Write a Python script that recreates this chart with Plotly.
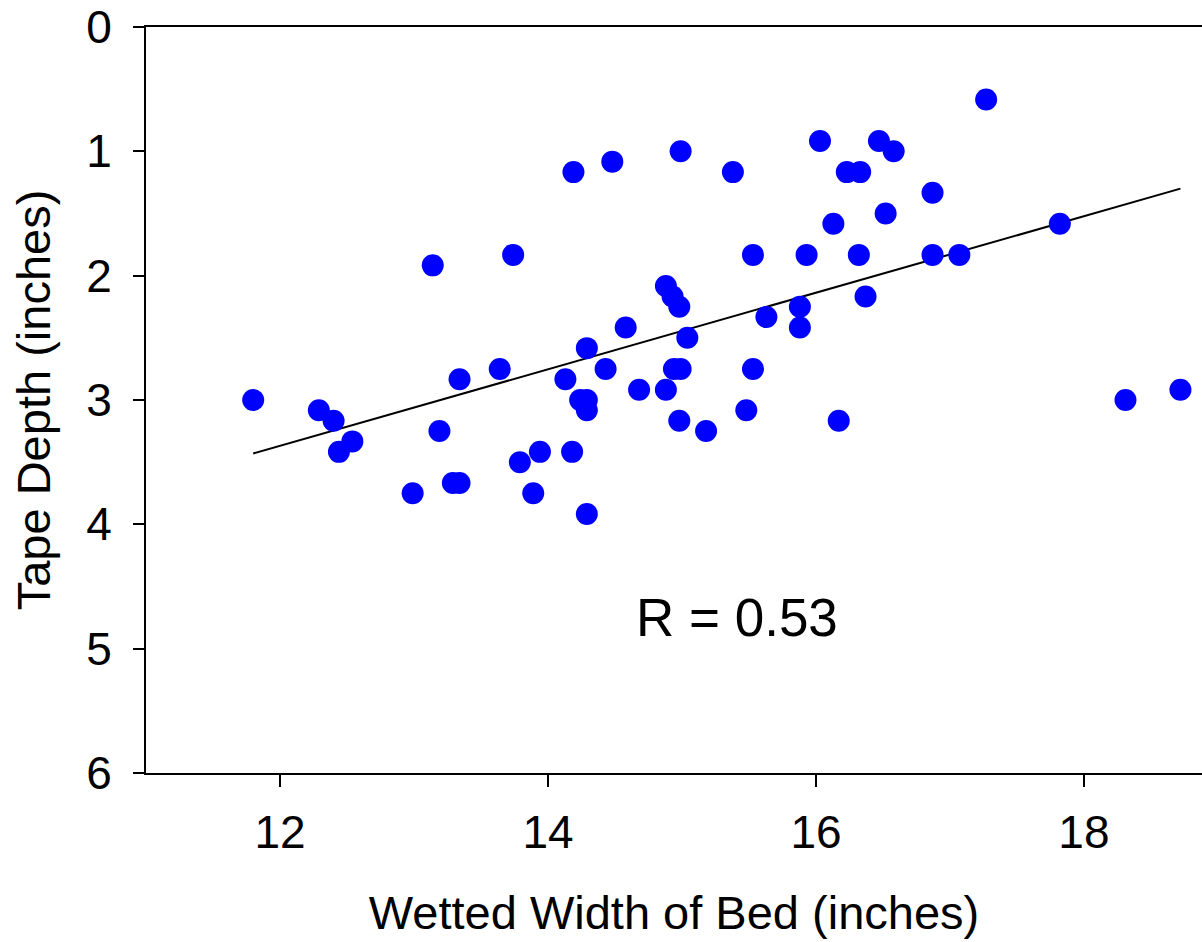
import plotly.graph_objects as go

# Wetted width of bed (inches)
width_in = [11.80, 12.29, 12.40, 12.54, 12.44, 12.99, 13.14, 13.19, 13.29, 13.34,
            13.34, 13.64, 14.19, 14.48, 14.99, 13.74, 14.88, 14.93, 14.98, 14.58,
            15.04, 14.29, 14.43, 14.94, 14.99, 14.13, 14.68, 14.88, 14.24, 14.29,
            14.29, 14.98, 15.18, 13.94, 13.79, 14.18, 13.89, 14.29, 16.03, 16.47,
            16.58, 15.38, 16.23, 16.33, 16.87, 16.52, 16.13, 15.53, 15.93, 16.32,
            16.87, 17.07, 16.37, 15.88, 15.63, 15.88, 15.53, 15.48, 16.17, 17.27,
            17.82, 18.31, 18.72]
# Tape depth (inches)
depth_in = [3.000, 3.083, 3.167, 3.333, 3.417, 3.750, 1.917, 3.250, 3.667, 3.667,
            2.833, 2.750, 1.167, 1.083, 1.000, 1.833, 2.083, 2.167, 2.250, 2.417,
            2.500, 2.583, 2.750, 2.750, 2.750, 2.833, 2.917, 2.917, 3.000, 3.000,
            3.083, 3.167, 3.250, 3.417, 3.500, 3.417, 3.750, 3.917, 0.917, 0.917,
            1.000, 1.167, 1.167, 1.167, 1.333, 1.500, 1.583, 1.833, 1.833, 1.833,
            1.833, 1.833, 2.167, 2.250, 2.333, 2.417, 2.750, 3.083, 3.167, 0.583,
            1.583, 3.000, 2.917]

# Regression line end points
fit_x = [11.80, 18.72]
fit_y = [3.43, 1.30]

x_ticks = [12, 14, 16, 18]
y_ticks = [0, 1, 2, 3, 4, 5, 6]

FONT = "Liberation Sans, Arial, sans-serif"

fig = go.Figure()
fig.add_trace(go.Scatter(x=fit_x, y=fit_y, mode="lines",
                         line=dict(color="black", width=2), showlegend=False,
                         hoverinfo="skip"))
fig.add_trace(go.Scatter(x=width_in, y=depth_in, mode="markers",
                         marker=dict(color="#0000FF", size=22, line=dict(width=0)),
                         showlegend=False))

fig.add_annotation(x=15.41, y=4.75, xref="x", yref="y", text="R = 0.53",
                   showarrow=False, font=dict(family=FONT, size=53, color="black"))

fig.update_layout(
    width=1202, height=942,
    margin=dict(l=146, r=0, t=27, b=169, pad=0),
    paper_bgcolor="white", plot_bgcolor="white",
    font=dict(family=FONT, color="black"),
    xaxis=dict(range=[11, 18.881], tickvals=x_ticks, ticktext=[str(v) for v in x_ticks],
               showline=True, linecolor="black", linewidth=2, mirror=True,
               ticks="outside", ticklen=12, tickwidth=2, tickcolor="black",
               ticklabelstandoff=6,
               showgrid=False, zeroline=False, tickfont=dict(size=46),
               title=dict(text="Wetted Width of Bed (inches)", font=dict(size=47), standoff=39),
               automargin=False),
    yaxis=dict(range=[6, 0], tickvals=y_ticks, ticktext=[str(v) for v in y_ticks],
               showline=True, linecolor="black", linewidth=2, mirror=False,
               ticks="outside", ticklen=11, tickwidth=2, tickcolor="black",
               ticklabelstandoff=12,
               showgrid=False, zeroline=False, tickfont=dict(size=46),
               title=dict(text="Tape Depth (inches)", font=dict(size=47), standoff=21),
               automargin=False),
)

fig.write_html("out.html")
